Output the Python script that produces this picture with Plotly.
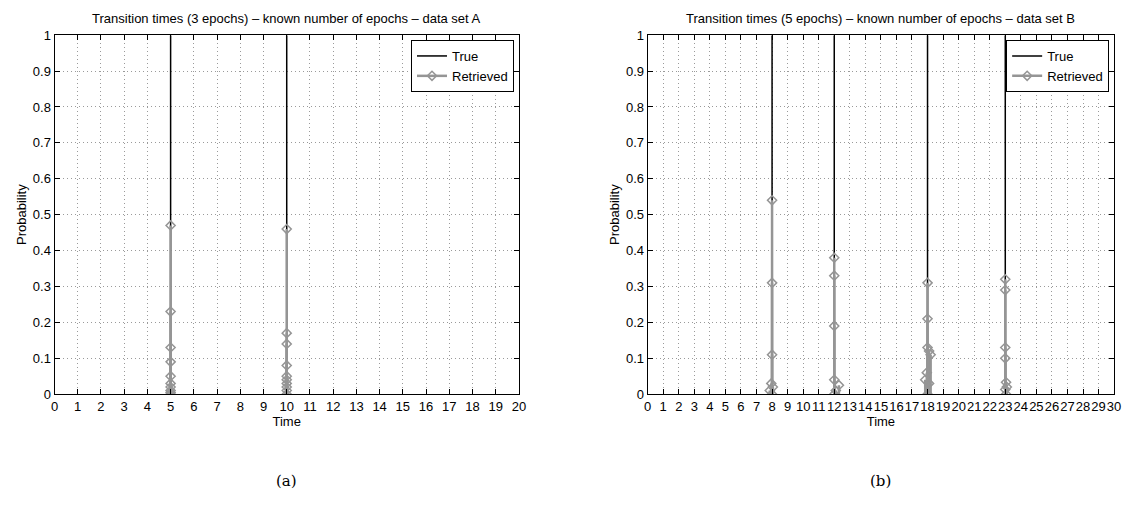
import plotly.graph_objects as go

# ---- data -------------------------------------------------------------
# Panel (a): data set A, transitions at t = 5 and t = 10
true_times_a = [5, 10]
retr_times_a = [5, 5, 5, 5, 5, 5, 5, 5, 5, 5,
                10, 10, 10, 10, 10, 10, 10, 10, 10, 10]
retr_probs_a = [0.47, 0.23, 0.13, 0.09, 0.05, 0.03, 0.02, 0.01, 0.005, 0.0,
                0.46, 0.17, 0.14, 0.08, 0.05, 0.04, 0.03, 0.02, 0.01, 0.0]

# Panel (b): data set B, transitions at t = 8, 12, 18, 23
true_times_b = [8, 12, 18, 23]
retr_times_b = [8.0, 8.0, 8.0, 7.95, 8.05, 7.85, 8.0,
                12.0, 12.0, 12.0, 12.0, 12.3, 12.1, 12.0,
                18.0, 18.0, 18.0, 18.1, 18.2, 17.95, 17.85, 18.1, 18.0,
                23.0, 23.0, 23.0, 23.0, 23.05, 23.1, 23.0, 23.05]
retr_probs_b = [0.54, 0.31, 0.11, 0.03, 0.02, 0.01, 0.0,
                0.38, 0.33, 0.19, 0.04, 0.025, 0.01, 0.0,
                0.31, 0.21, 0.13, 0.12, 0.11, 0.06, 0.04, 0.03, 0.0,
                0.32, 0.29, 0.13, 0.10, 0.033, 0.02, 0.013, 0.0]

titles = ["Transition times (3 epochs) \u2013 known number of epochs \u2013 data set A",
          "Transition times (5 epochs) \u2013 known number of epochs \u2013 data set B"]
x_max = [20, 30]
y_ticks = [0, 0.1, 0.2, 0.3, 0.4, 0.5, 0.6, 0.7, 0.8, 0.9, 1]
y_ticktext = ["0", "0.1", "0.2", "0.3", "0.4", "0.5", "0.6", "0.7", "0.8", "0.9", "1"]
panel_labels = ["(a)", "(b)"]

# ---- styling ------------------------------------------------------------
W, H = 1132, 506
FONT = "Liberation Sans, Arial, sans-serif"
FS = 13
TRUE_COLOR = "#000000"
RETR_COLOR = "#959595"
GRID_COLOR = "#9a9a9a"

# plot-area pixel boxes: (left, right) in x, (top, bottom) in y
x_px = [(51, 520), (650, 1121)]
y_px = (29, 399)


def stems(xs, ys):
    sx, sy = [], []
    for x, y in zip(xs, ys):
        sx += [x, x, None]
        sy += [0, y, None]
    return sx, sy


fig = go.Figure()

panels = [(true_times_a, retr_times_a, retr_probs_a),
          (true_times_b, retr_times_b, retr_probs_b)]

marker_style = dict(symbol="diamond-open", size=7, color=RETR_COLOR,
                    line=dict(color=RETR_COLOR, width=1.5))

for i, (tt, rt, rp) in enumerate(panels):
    xa = "x" if i == 0 else "x2"
    ya = "y" if i == 0 else "y2"
    leg = "legend" if i == 0 else "legend2"

    tx, ty = stems(tt, [1.0] * len(tt))
    fig.add_trace(go.Scatter(x=tx, y=ty, mode="lines", name="True",
                             line=dict(color=TRUE_COLOR, width=1.5),
                             xaxis=xa, yaxis=ya, legend=leg, showlegend=True,
                             hoverinfo="skip"))

    rx, ry = stems(rt, rp)
    fig.add_trace(go.Scatter(x=rx, y=ry, mode="lines",
                             line=dict(color=RETR_COLOR, width=2.5),
                             xaxis=xa, yaxis=ya, showlegend=False,
                             hoverinfo="skip"))
    fig.add_trace(go.Scatter(x=rt, y=rp, mode="markers", marker=marker_style,
                             xaxis=xa, yaxis=ya, showlegend=False))
    # legend entry for the retrieved stems (line + diamond)
    fig.add_trace(go.Scatter(x=[None], y=[None], mode="lines+markers",
                             name="Retrieved",
                             line=dict(color=RETR_COLOR, width=2.5),
                             marker=marker_style,
                             xaxis=xa, yaxis=ya, legend=leg, showlegend=True))

axis_common = dict(showline=True, linecolor="black", linewidth=1, mirror="ticks",
                   ticks="inside", ticklen=5, tickcolor="black",
                   showgrid=True, gridcolor=GRID_COLOR, griddash="1px,3px",
                   gridwidth=1, zeroline=False,
                   tickfont=dict(family=FONT, size=FS, color="black"),
                   tickangle=0)

layout = dict(width=W, height=H, margin=dict(l=0, r=0, t=0, b=0),
              paper_bgcolor="white", plot_bgcolor="white",
              font=dict(family=FONT, size=FS, color="black"))

y_dom = [1 - y_px[1] / H, 1 - y_px[0] / H]
for i in range(2):
    sfx = "" if i == 0 else "2"
    layout["xaxis" + sfx] = dict(
        axis_common, domain=[x_px[i][0] / W, x_px[i][1] / W],
        range=[0, x_max[i]], tickmode="array",
        tickvals=list(range(0, x_max[i] + 1)),
        ticktext=[str(v) for v in range(0, x_max[i] + 1)],
        anchor="y" + sfx,
        title=dict(text="Time", font=dict(family=FONT, size=FS), standoff=0))
    layout["yaxis" + sfx] = dict(
        axis_common, domain=y_dom, range=[0, 1], tickmode="array",
        tickvals=y_ticks, ticktext=y_ticktext, anchor="x" + sfx,
        title=dict(text="Probability", font=dict(family=FONT, size=FS), standoff=3))
    layout["legend" + sfx] = dict(
        x=(x_px[i][1] - 5) / W, y=1 - 34 / H,
        xanchor="right", yanchor="top",
        bgcolor="white", bordercolor="black", borderwidth=1,
        font=dict(family=FONT, size=FS, color="black"),
        traceorder="normal", itemwidth=30, tracegroupgap=0)

annotations = []
for i in range(2):
    cx = (x_px[i][0] + x_px[i][1]) / 2 / W
    annotations.append(dict(text=titles[i], x=cx, y=1 - 12 / H, xref="paper",
                            yref="paper", xanchor="center", yanchor="middle",
                            showarrow=False,
                            font=dict(family=FONT, size=FS, color="black")))
    annotations.append(dict(text=panel_labels[i], x=cx, y=1 - 488 / H,
                            xref="paper", yref="paper", xanchor="center",
                            yanchor="middle", showarrow=False,
                            font=dict(family="DejaVu Serif, Liberation Serif, serif",
                                      size=15, color="black")))
layout["annotations"] = annotations

fig.update_layout(**layout)

# the page body keeps no default margin so the figure fills the window exactly
page_css = ("document.body.style.margin='0';"
            "document.body.style.overflow='hidden';")
fig.write_html("out.html", post_script=page_css)
